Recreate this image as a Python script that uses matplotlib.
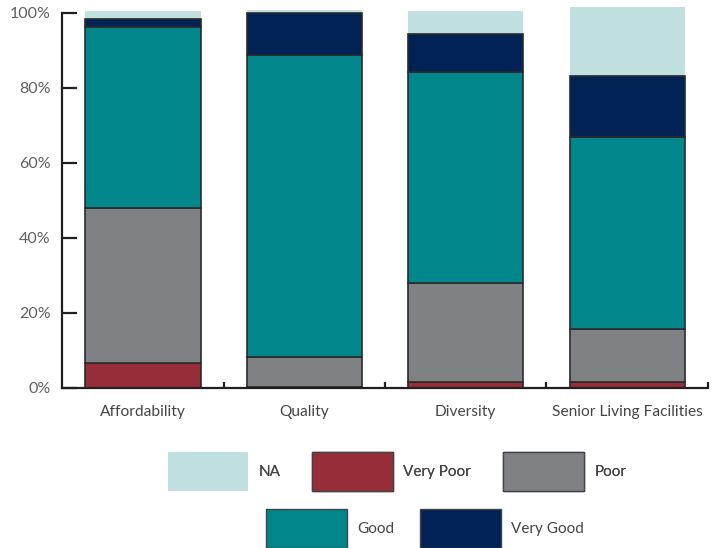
import numpy as np
import matplotlib
matplotlib.use("Agg")
import matplotlib.pyplot as plt
from matplotlib.patches import Patch

plt.rcParams['font.family'] = ['Lato', 'DejaVu Sans']

# categories and shares (fraction of respondents), stacked bottom -> top
categories = ["Affordability", "Quality", "Diversity", "Senior Living Facilities"]
very_poor = [0.067, 0.003, 0.017, 0.017]
poor = [0.412, 0.079, 0.262, 0.140]
good = [0.484, 0.806, 0.564, 0.512]
very_good = [0.021, 0.111, 0.101, 0.163]
na = [0.021, 0.009, 0.061, 0.184]

series_names = ["Very Poor", "Poor", "Good", "Very Good", "NA"]
series_vals = [very_poor, poor, good, very_good, na]
colors = {"NA": "#c0dfdf", "Very Poor": "#962d38", "Poor": "#808184",
          "Good": "#00868b", "Very Good": "#002255"}
edge = "#2b2b2b"

fig = plt.figure(figsize=(7.22, 5.48), dpi=100)
ax = fig.add_axes([0.0859, 0.292, 0.8947, 0.698])

x = np.arange(len(categories))
bottom = np.zeros(len(categories))
for name, vals in zip(series_names, series_vals):
    if name == "NA":
        ax.bar(x, vals, 0.715, bottom=bottom, color=colors[name], linewidth=0, zorder=1)
    else:
        ax.bar(x, vals, 0.715, bottom=bottom, color=colors[name],
               edgecolor=edge, linewidth=1.2, zorder=2)
    bottom += np.array(vals)

ax.set_xlim(-0.5, 3.5)
ax.set_ylim(0, 1.02)
ax.spines['top'].set_visible(False)
ax.spines['right'].set_visible(False)
ax.spines['left'].set_bounds(0, 1)
for s in ['left', 'bottom']:
    ax.spines[s].set_color("#231f20")
    ax.spines[s].set_linewidth(1.6)
    ax.spines[s].set_zorder(3)

ax.set_yticks(np.linspace(0, 1, 6))
ax.set_yticklabels([f"{int(v * 100)}%" for v in np.linspace(0, 1, 6)])
ax.tick_params(axis='y', direction='in', length=11, width=1.6, color="#231f20",
               pad=8, labelsize=11.5, labelcolor="#606060")

ax.set_xticks(x)
ax.set_xticklabels(categories)
ax.tick_params(axis='x', which='major', length=0, pad=12, labelsize=11.2, labelcolor="#454545")
ax.set_xticks(x + 0.5, minor=True)
ax.tick_params(axis='x', which='minor', direction='in', length=4.5, width=1.6, color="#231f20")

# legend in two rows like the original
def handle(name):
    if name == "NA":
        return Patch(facecolor=colors[name], edgecolor='none')
    return Patch(facecolor=colors[name], edgecolor="#444444", linewidth=1.0)

row1 = ["NA", "Very Poor", "Poor"]
row2 = ["Good", "Very Good"]
leg_kw = dict(frameon=False, fontsize=11, handlelength=5.3, handleheight=3.5,
              handletextpad=0.65, labelcolor="#454545", borderpad=0, borderaxespad=0)
leg1 = fig.legend([handle(n) for n in row1], row1, ncol=3, loc='upper left',
                  bbox_to_anchor=(0.232, 0.175), columnspacing=2.1, **leg_kw)
leg2 = fig.legend([handle(n) for n in row2], row2, ncol=2, loc='upper left',
                  bbox_to_anchor=(0.369, 0.071), columnspacing=1.7, **leg_kw)
fig.add_artist(leg1)

fig.savefig("out.png", dpi=100)
